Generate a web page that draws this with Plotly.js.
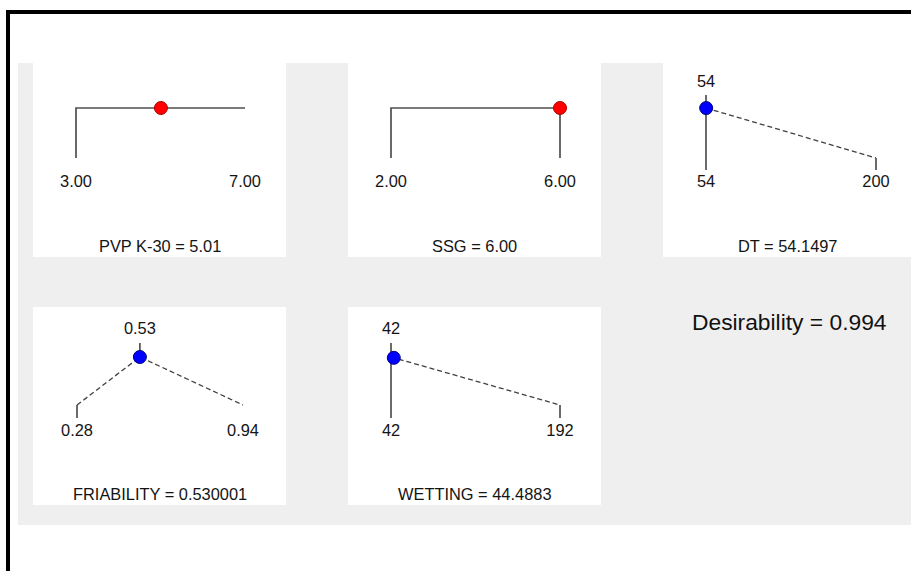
<!DOCTYPE html>
<html>
<head>
<meta charset="utf-8">
<script src="https://cdn.plot.ly/plotly-3.0.1.min.js"></script>
<style>
  html, body { margin: 0; padding: 0; background: #ffffff; }
  #chart { width: 911px; height: 571px; }
</style>
</head>
<body>
<div id="chart"></div>
<script>
// ---- Optimisation settings and responses ----
const factorNames = ['PVP K-30', 'SSG'];
const factorLow = [3, 2];
const factorHigh = [7, 6];
const factorSetting = [5.01, 6.00];

const responseNames = ['DT', 'FRIABILITY', 'WETTING'];
const responseLow = [54, 0.28, 42];
const responseTarget = [54, 0.53, 42];
const responseHigh = [200, 0.94, 192];
const responsePredicted = [54.1497, 0.530001, 44.4883];
const responseDesirability = [0.999, 1.000, 0.983];
const responseDecimals = [0, 2, 0];

const overallDesirability = 0.994;

// ---- Page geometry (pixels) ----
const W = 911, H = 571;
const px = x => x / W;
const py = y => 1 - y / H;

const ROWS = [
  { d1: 108, d0: 158, tickEnd: 170, label: 183, topTick: 95, topLabel: 83, title: 246 },
  { d1: 357, d0: 405, tickEnd: 418, label: 432, topTick: 343, topLabel: 330, title: 494 }
];
const PANELS = [
  { rect: [33, 63, 286, 257], lowPx: 76, highPx: 245, row: 0 },
  { rect: [348, 63, 601, 257], lowPx: 391, highPx: 560, row: 0 },
  { rect: [663, 63, 911, 257], lowPx: 706, highPx: 876, row: 0 },
  { rect: [33, 307, 286, 505], lowPx: 77, highPx: 243, row: 1 },
  { rect: [348, 307, 601, 505], lowPx: 391, highPx: 560, row: 1 }
];
// which factor ramps drop down at each end
const factorDrops = [[true, false], [true, true]];
// whether a response shows the small tick at its upper limit
const responseHighTick = [true, false, true];

const FONT = { family: 'Liberation Sans, Arial, sans-serif', size: 16.4, color: '#141414' };
const SOLID = { color: '#505050', width: 1.7 };
const DASHED = { color: '#404040', width: 1.3, dash: '5px,3px' };

const traces = [];
const annotations = [];
const layout = {
  width: W, height: H,
  margin: { l: 0, r: 0, t: 0, b: 0 },
  paper_bgcolor: '#ffffff',
  plot_bgcolor: 'rgba(0,0,0,0)',
  showlegend: false,
  shapes: [],
  annotations: annotations
};

// grey backdrop and white panels
layout.shapes.push({ type: 'rect', xref: 'paper', yref: 'paper', layer: 'below',
  x0: px(18), x1: px(911), y0: py(525), y1: py(63), fillcolor: '#efefef', line: { width: 0 } });
PANELS.forEach(p => {
  layout.shapes.push({ type: 'rect', xref: 'paper', yref: 'paper', layer: 'below',
    x0: px(p.rect[0]), x1: px(p.rect[2]), y0: py(p.rect[3]), y1: py(p.rect[1]),
    fillcolor: '#ffffff', line: { width: 0 } });
});
// frame
layout.shapes.push({ type: 'line', xref: 'paper', yref: 'paper', x0: px(8), x1: px(8), y0: py(571), y1: py(10), line: { color: '#000', width: 4 } });
layout.shapes.push({ type: 'line', xref: 'paper', yref: 'paper', x0: px(6), x1: px(911), y0: py(12), y1: py(12), line: { color: '#000', width: 4 } });

function axisIds(i) {
  const n = i === 0 ? '' : String(i + 1);
  return { x: 'x' + n, y: 'y' + n, xk: 'xaxis' + n, yk: 'yaxis' + n };
}

function setupPanel(i, low, high) {
  const p = PANELS[i], r = ROWS[p.row], ids = axisIds(i);
  const sx = (high - low) / (p.highPx - p.lowPx);
  const unit = r.d0 - r.d1;
  layout[ids.xk] = {
    domain: [px(p.rect[0]), px(p.rect[2])], anchor: ids.y,
    range: [low - (p.lowPx - p.rect[0]) * sx, high + (p.rect[2] - p.highPx) * sx],
    visible: false, fixedrange: true
  };
  layout[ids.yk] = {
    domain: [py(p.rect[3]), py(p.rect[1])], anchor: ids.x,
    range: [(r.d0 - p.rect[3]) / unit, (r.d0 - p.rect[1]) / unit],
    visible: false, fixedrange: true
  };
  const d = y => (r.d0 - y) / unit;
  return { ids, d, r };
}

function line(ids, xs, ys, style) {
  traces.push({ type: 'scatter', mode: 'lines', x: xs, y: ys, xaxis: ids.x, yaxis: ids.y,
    line: style, hoverinfo: 'skip', cliponaxis: false });
}
function labels(ids, xs, ys, texts) {
  traces.push({ type: 'scatter', mode: 'text', x: xs, y: ys, text: texts, xaxis: ids.x, yaxis: ids.y,
    textposition: 'middle center', textfont: FONT, hoverinfo: 'skip', cliponaxis: false });
}
function dot(ids, x, y, fill, edge) {
  traces.push({ type: 'scatter', mode: 'markers', x: [x], y: [y], xaxis: ids.x, yaxis: ids.y,
    marker: { size: 13, color: fill, line: { color: edge, width: 1 } }, hoverinfo: 'skip', cliponaxis: false });
}
function title(ids, d, r, text) {
  annotations.push({ xref: ids.x + ' domain', yref: ids.y, x: 0.5, y: d(r.title),
    text: text, showarrow: false, font: FONT, xanchor: 'center', yanchor: 'middle' });
}

// factor panels
factorNames.forEach((name, k) => {
  const lo = factorLow[k], hi = factorHigh[k];
  const { ids, d, r } = setupPanel(k, lo, hi);
  const xs = [], ys = [];
  if (factorDrops[k][0]) { xs.push(lo); ys.push(0); }
  xs.push(lo, hi); ys.push(1, 1);
  if (factorDrops[k][1]) { xs.push(hi); ys.push(0); }
  line(ids, xs, ys, SOLID);
  labels(ids, [lo, hi], [d(r.label), d(r.label)], [lo.toFixed(2), hi.toFixed(2)]);
  dot(ids, factorSetting[k], 1, '#ff0000', '#b00000');
  title(ids, d, r, name + ' = ' + factorSetting[k].toFixed(2));
});

// response panels
responseNames.forEach((name, k) => {
  const i = k + factorNames.length;
  const lo = responseLow[k], tg = responseTarget[k], hi = responseHigh[k];
  const { ids, d, r } = setupPanel(i, lo, hi);
  const dLow = tg === lo ? 1 : 0;
  const dHigh = tg === hi ? 1 : 0;
  const fmt = v => v.toFixed(responseDecimals[k]);
  // desirability ramp
  line(ids, [lo, tg, hi], [dLow, 1, dHigh], DASHED);
  // limit ticks
  line(ids, [lo, lo], [d(r.tickEnd), dLow], SOLID);
  if (responseHighTick[k]) line(ids, [hi, hi], [d(r.tickEnd), dHigh], SOLID);
  // target marker
  line(ids, [tg, tg], [1, d(r.topTick)], SOLID);
  labels(ids, [tg], [d(r.topLabel)], [fmt(tg)]);
  labels(ids, [lo, hi], [d(r.label), d(r.label)], [fmt(lo), fmt(hi)]);
  dot(ids, responsePredicted[k], responseDesirability[k], '#0000ff', '#000080');
  title(ids, d, r, name + ' = ' + String(responsePredicted[k]));
});

annotations.push({ xref: 'paper', yref: 'paper', x: px(789), y: py(322),
  text: 'Desirability = ' + overallDesirability.toFixed(3), showarrow: false,
  font: { family: 'Liberation Sans, Arial, sans-serif', size: 22.8, color: '#111111' },
  xanchor: 'center', yanchor: 'middle' });

Plotly.newPlot('chart', traces, layout, { staticPlot: true, displayModeBar: false });
</script>
</body>
</html>
